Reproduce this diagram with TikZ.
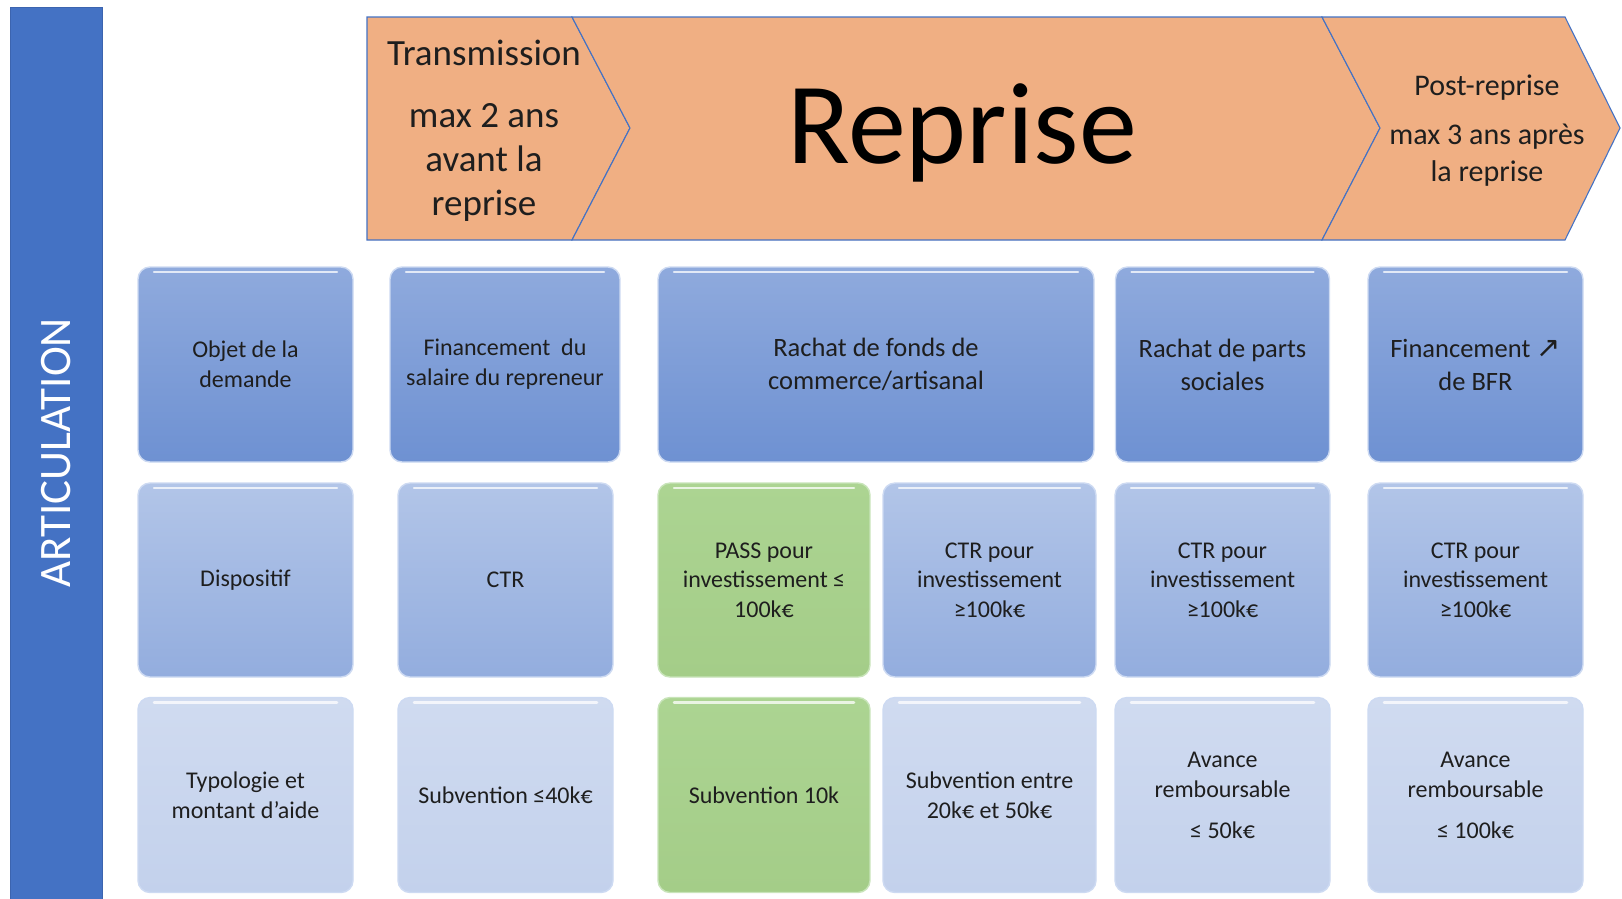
\documentclass[tikz,border=0pt]{standalone}
\usepackage{fontspec}
\setmainfont{Carlito}
\newfontfamily\symfont{DejaVu Sans}
\definecolor{chevfill}{RGB}{240,175,131}
\definecolor{chevline}{RGB}{68,114,196}
\definecolor{barblue}{RGB}{68,114,196}
\definecolor{rAtop}{RGB}{143,170,221}
\definecolor{rAbot}{RGB}{110,145,210}
\definecolor{rBtop}{RGB}{178,197,232}
\definecolor{rBbot}{RGB}{147,173,222}
\definecolor{rCtop}{RGB}{208,219,240}
\definecolor{rCbot}{RGB}{195,209,236}
\definecolor{gtop}{RGB}{172,212,146}
\definecolor{gbot}{RGB}{164,205,136}
\definecolor{tileedge}{RGB}{205,218,242}
\definecolor{txt}{RGB}{30,30,30}
\tikzset{
  chev/.style={fill=chevfill, draw=chevline, line width=1.1pt, line join=miter},
  tile/.style={rounded corners=12pt, draw=tileedge, line width=1.4pt,
    align=center, inner sep=4pt, text=txt,
    path picture={\draw[sharp corners, white, opacity=.75, line width=2.5pt, line cap=round]
      ([xshift=16pt,yshift=-5pt]path picture bounding box.north west) --
      ([xshift=-16pt,yshift=-5pt]path picture bounding box.north east);}},
  rowA/.style={tile, top color=rAtop, bottom color=rAbot, minimum height=195pt},
  rowB/.style={tile, top color=rBtop, bottom color=rBbot, minimum height=194pt,
    font=\fontsize{24}{29.5}\selectfont},
  rowC/.style={tile, top color=rCtop, bottom color=rCbot, minimum height=195pt,
    font=\fontsize{24}{30}\selectfont},
  greenB/.style={tile, top color=gtop, bottom color=gbot, minimum height=194pt,
    draw={rgb,255:red,200;green,228;blue,185}, font=\fontsize{24}{29.5}\selectfont},
  greenC/.style={greenB, minimum height=195pt},
  smalltxt/.style={font=\fontsize{24}{30}\selectfont},
  bigtxt/.style={font=\fontsize{26.5}{33}\selectfont},
}
\begin{document}
\begin{tikzpicture}[x=1pt,y=-1pt]
\useasboundingbox (0,0) rectangle (1622,898);
\fill[white] (0,0) rectangle (1622,898);

% left bar
\node[fill=barblue, draw={rgb,255:red,60;green,100;blue,175}, line width=0.8pt,
  minimum width=92pt, minimum height=900pt, anchor=north west, inner sep=0pt] (bar) at (10,7) {};
\node[rotate=90, text=white, font=\fontsize{45}{54}\selectfont] (art) at (56,453) {ARTICULATION};

% chevrons
\draw[chev] (367,17) -- (572,17) -- (630,128) -- (572,240) -- (367,240) -- cycle;
\draw[chev] (572,17) -- (1322,17) -- (1380,128) -- (1322,240) -- (572,240) -- (630,128) -- cycle;
\draw[chev] (1322,17) -- (1565,17) -- (1620,128) -- (1565,240) -- (1322,240) -- (1380,128) -- cycle;

\node[font=\fontsize{37}{44}\selectfont, align=center, text=txt] (trans) at (484,130.5)
  {Transmission\\[18pt]max 2 ans\\avant la\\reprise};
\node[font=\fontsize{116}{120}\selectfont, anchor=base, text=black] (rep) at (962,163) {Reprise};
\node[font=\fontsize{30}{37}\selectfont, align=center, text=txt] (post) at (1487,131)
  {Post-reprise\\[12pt]max 3 ans après\\la reprise};

% row 1
\node[rowA, smalltxt, minimum width=215pt] (r1c1) at (245.5,364.5) {Objet de la\\demande};
\node[rowA, smalltxt, minimum width=230pt] (r1c2) at (505,364.5) {Financement\ \ du\\salaire du repreneur};
\node[rowA, bigtxt, minimum width=436pt] (r1c3) at (876,364.5) {Rachat de fonds de\\commerce/artisanal};
\node[rowA, bigtxt, minimum width=214pt] (r1c4) at (1222.5,364.5) {Rachat de parts\\sociales};
\node[rowA, bigtxt, minimum width=215pt] (r1c5) at (1475.5,364.5) {Financement {\symfont\fontsize{29}{30}\selectfont ↗}\\de BFR};

% row 2
\node[rowB, minimum width=215pt] (r2c1) at (245.5,580) {Dispositif};
\node[rowB, minimum width=215pt] (r2c2) at (505.5,580) {CTR};
\node[greenB, minimum width=212pt] (r2c3) at (764,580) {PASS pour\\investissement ≤\\100k€};
\node[rowB, minimum width=213pt] (r2c4) at (989.5,580) {CTR pour\\investissement\\≥100k€};
\node[rowB, minimum width=215pt] (r2c5) at (1222.5,580) {CTR pour\\investissement\\≥100k€};
\node[rowB, minimum width=215pt] (r2c6) at (1475.5,580) {CTR pour\\investissement\\≥100k€};

% row 3
\node[rowC, minimum width=215pt] (r3c1) at (245.5,795) {Typologie et\\montant d’aide};
\node[rowC, minimum width=215pt] (r3c2) at (505.5,795) {Subvention ≤40k€};
\node[greenC, minimum width=212pt] (r3c3) at (764,795) {Subvention 10k};
\node[rowC, minimum width=213pt] (r3c4) at (989.5,795) {Subvention entre\\20k€ et 50k€};
\node[rowC, minimum width=215pt] (r3c5) at (1222.5,795) {Avance\\remboursable\\[11pt]≤ 50k€};
\node[rowC, minimum width=215pt] (r3c6) at (1475.5,795) {Avance\\remboursable\\[11pt]≤ 100k€};
\end{tikzpicture}
\end{document}
